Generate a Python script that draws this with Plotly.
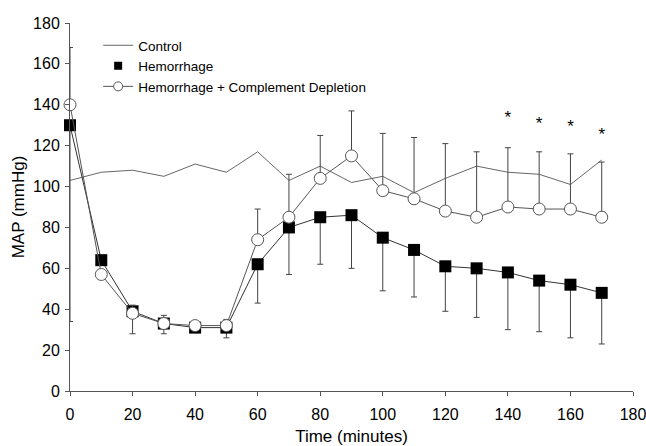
import plotly.graph_objects as go

time = [0, 10, 20, 30, 40, 50, 60, 70, 80, 90, 100, 110, 120, 130, 140, 150, 160, 170]

control = [103, 107, 108, 105, 111, 107, 117, 103, 110, 102, 105, 97, 104, 110, 107, 106, 101, 113]

hemorrhage = [130, 64, 39, 33, 31, 31, 62, 80, 85, 86, 75, 69, 61, 60, 58, 54, 52, 48]
hemorrhage_err_minus = [96, 0, 11, 5, 0, 5, 19, 23, 23, 26, 26, 23, 22, 24, 28, 25, 26, 25]

depletion = [140, 57, 38, 33, 32, 32, 74, 85, 104, 115, 98, 94, 88, 85, 90, 89, 89, 85]
depletion_err_plus = [28, 0, 4, 4, 0, 3, 15, 21, 21, 22, 28, 30, 33, 32, 29, 28, 27, 27]

star_time = [140, 150, 160, 170]
star_y = [133, 130, 129, 125]

x_ticks = [0, 20, 40, 60, 80, 100, 120, 140, 160, 180]
y_ticks = [0, 20, 40, 60, 80, 100, 120, 140, 160, 180]

FONT = "Liberation Sans, Arial, sans-serif"
ERR = dict(type="data", symmetric=False, color="#444444", thickness=1, width=3)

fig = go.Figure()

fig.add_trace(go.Scatter(
    x=time, y=control, mode="lines", name="Control", showlegend=False,
    line=dict(color="#666666", width=1), cliponaxis=False,
))

fig.add_trace(go.Scatter(
    x=time, y=hemorrhage, mode="lines+markers", name="Hemorrhage", showlegend=False,
    line=dict(color="#333333", width=1),
    marker=dict(symbol="square", size=12, color="black", line=dict(color="black", width=0)),
    error_y=dict(array=[0] * len(time), arrayminus=hemorrhage_err_minus, **ERR),
    cliponaxis=False,
))

fig.add_trace(go.Scatter(
    x=time, y=depletion, mode="lines+markers", name="Hemorrhage + Complement Depletion",
    showlegend=False,
    line=dict(color="#555555", width=1),
    marker=dict(symbol="circle", size=12, color="white", line=dict(color="#555555", width=1)),
    error_y=dict(array=depletion_err_plus, arrayminus=[0] * len(time), **ERR),
    cliponaxis=False,
))

fig.add_trace(go.Scatter(
    x=star_time, y=star_y, mode="text", text=["*"] * len(star_time),
    textfont=dict(family=FONT, size=17, color="black"), showlegend=False,
    cliponaxis=False,
))

# legend-only entries (smaller symbols, like the original key)
fig.add_trace(go.Scatter(
    x=[None], y=[None], mode="lines", name="Control",
    line=dict(color="#666666", width=1),
))
fig.add_trace(go.Scatter(
    x=[None], y=[None], mode="markers", name="Hemorrhage",
    marker=dict(symbol="square", size=8, color="black"),
))
fig.add_trace(go.Scatter(
    x=[None], y=[None], mode="lines+markers", name="Hemorrhage + Complement Depletion",
    line=dict(color="#555555", width=1),
    marker=dict(symbol="circle", size=9, color="white", line=dict(color="#555555", width=1)),
))

fig.update_layout(
    width=646, height=446,
    margin=dict(l=70, r=13, t=23, b=55),
    paper_bgcolor="white", plot_bgcolor="white",
    font=dict(family=FONT, size=14, color="black"),
    showlegend=True,
    legend=dict(
        x=0.05, y=0.981, xanchor="left", yanchor="top",
        bgcolor="rgba(0,0,0,0)", font=dict(family=FONT, size=13.5, color="black"),
        tracegroupgap=0, itemwidth=30,
    ),
    xaxis=dict(
        range=[0, 180], tickvals=x_ticks, ticktext=[str(v) for v in x_ticks],
        showgrid=False, zeroline=False, showline=True, linecolor="#555555", linewidth=1,
        ticks="outside", ticklen=4, tickcolor="#555555", automargin=False,
        ticklabelstandoff=5, ticklabeloverflow="allow",
        tickfont=dict(family=FONT, size=16),
        title=dict(text="Time (minutes)", font=dict(family=FONT, size=17), standoff=8),
    ),
    yaxis=dict(
        range=[0, 180], tickvals=y_ticks, ticktext=[str(v) for v in y_ticks],
        showgrid=False, zeroline=False, showline=True, linecolor="#555555", linewidth=1,
        ticks="outside", ticklen=4, tickcolor="#555555", automargin=False,
        ticklabelstandoff=2, ticklabeloverflow="allow",
        tickfont=dict(family=FONT, size=16),
        title=dict(text="MAP (mmHg)", font=dict(family=FONT, size=17), standoff=4),
    ),
)

fig.write_html("out.html", config={"displayModeBar": False},
               post_script="document.body.style.margin='0';")
